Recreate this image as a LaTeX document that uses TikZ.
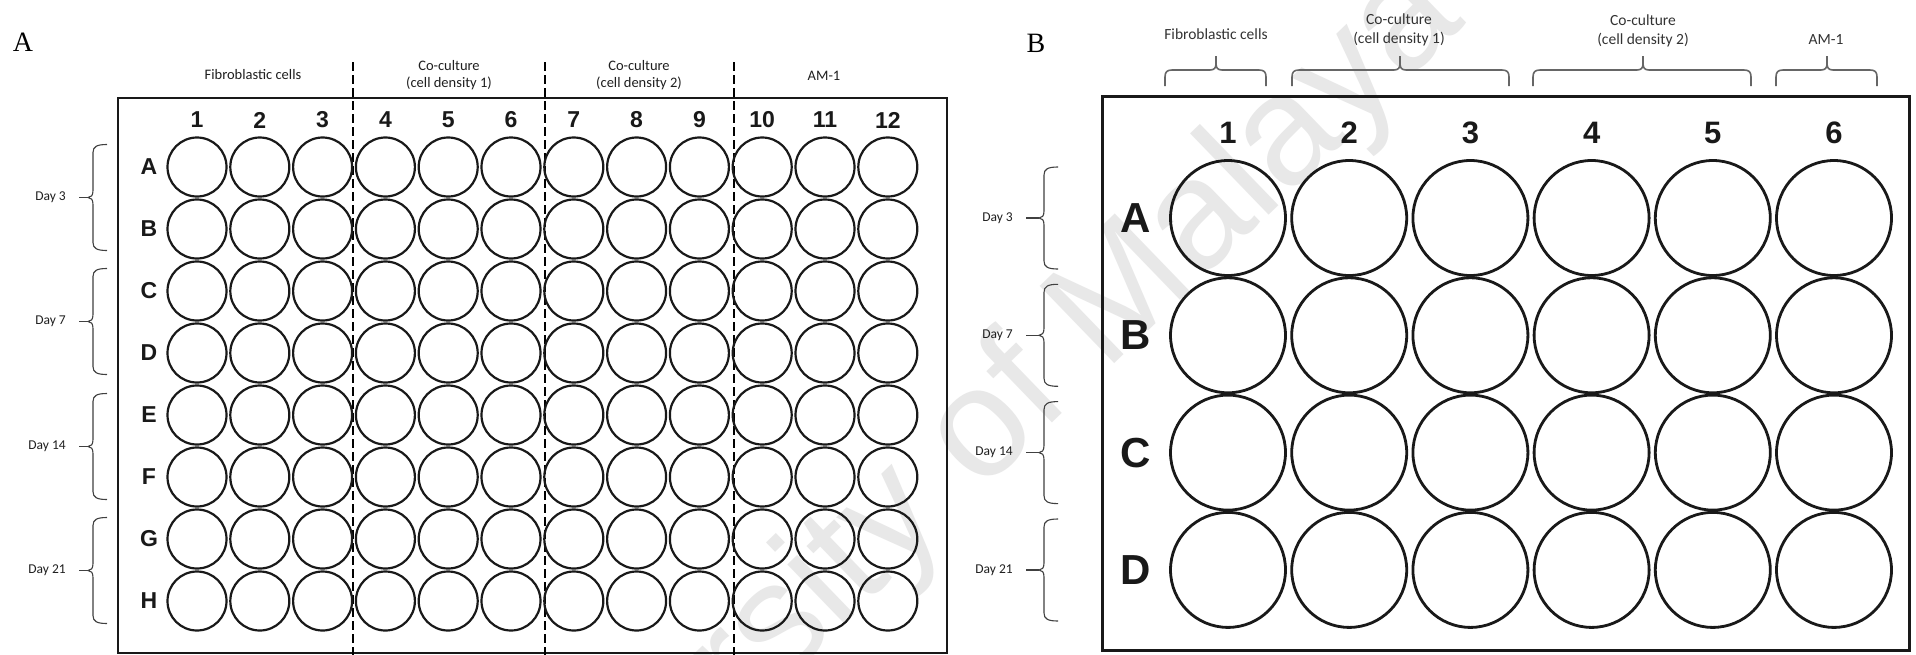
\documentclass[tikz,border=0pt]{standalone}
\usepackage{fontspec}
\setmainfont{Liberation Serif}
\setsansfont{Liberation Sans}
\newfontfamily\calib{Carlito}
\newcommand{\dayBrace}[5]{% name, x of spine, top, mid, bottom
  \draw[bracestyle] (#2+14,#3) .. controls (#2+4,#3) and (#2,#3+2) .. (#2,#3+8)
     -- (#2,#4-7) .. controls (#2,#4-2) and (#2-2,#4) .. (#2-5,#4)
     .. controls (#2-2,#4) and (#2,#4+2) .. (#2,#4+7)
     -- (#2,#5-8) .. controls (#2,#5-2) and (#2+4,#5) .. (#2+14,#5);
  \coordinate (#1) at (#2-5,#4);
}
\newcommand{\topBrace}[4]{% name, left, right, centre
  \draw[bracestyleb] (#2,86) -- (#2,77) .. controls (#2,72) and (#2+2,70) .. (#2+7,70)
     -- (#4-6,70) .. controls (#4-2,70) and (#4,68) .. (#4,64) -- (#4,56);
  \draw[bracestyleb] (#3,86) -- (#3,77) .. controls (#3,72) and (#3-2,70) .. (#3-7,70)
     -- (#4+6,70) .. controls (#4+2,70) and (#4,68) .. (#4,64);
  \coordinate (#1) at (#4,56);
}
\begin{document}
\begin{tikzpicture}[x=1pt,y=-1pt,
  hdr/.style={font=\calib\fontsize{14.5}{16.5}\selectfont, align=center, text=black!88, inner sep=0},
  hdrb/.style={font=\calib\fontsize{15.5}{19}\selectfont, align=center, text=black!80, inner sep=0},
  daylbl/.style={font=\calib\fontsize{13.5}{16}\selectfont, text=black!88, inner sep=0, anchor=east},
  numa/.style={font=\sffamily\bfseries\fontsize{23}{23}\selectfont, inner sep=0, text=black!90},
  numb/.style={font=\sffamily\bfseries\fontsize{31}{31}\selectfont, inner sep=0, text=black!90},
  rowb/.style={font=\sffamily\bfseries\fontsize{42}{42}\selectfont, inner sep=0, text=black!90},
  panel/.style={font=\rmfamily\fontsize{28}{28}\selectfont, inner sep=0},
  wella/.style={circle, draw=black!90, line width=2.2pt, minimum size=59pt, inner sep=0},
  wellb/.style={circle, draw=black!90, line width=2.8pt, minimum size=115pt, inner sep=0},
  bracestyle/.style={draw=black!75, line width=1.1pt},
  bracestyleb/.style={draw=black!60, line width=1.6pt},
  ticka/.style={draw=black!75, line width=1.1pt},
  divider/.style={draw=black, line width=2pt, dash pattern=on 9pt off 4pt},
  plate/.style={draw=black!90, line width=2.6pt},
  watermark/.style={font=\sffamily\fontsize{156}{156}\selectfont, text=black!9, inner sep=0}
]
\useasboundingbox (0,0) rectangle (1916,654);
\fill[white] (0,0) rectangle (1916,654);
% watermark
\begin{scope}
  \clip (0,0) rectangle (1916,654);
  \node[watermark, rotate=44] (wm) at (934,482) {University of Malaya};
\end{scope}

% ================= Panel A =================
\node[panel] (labA) at (23,42) {A};
\draw[plate] (118,98) rectangle (947,653);
\foreach \x/\n in {353/1,545/2,734/3} {
  \coordinate (dtop\n) at (\x,62);
  \coordinate (dbot\n) at (\x,656);
  \draw[divider] (dtop\n) -- (dbot\n);
}
\node[hdr] (hA1) at (253,75) {Fibroblastic cells};
\node[hdr] (hA2) at (449,75) {Co-culture\\(cell density 1)};
\node[hdr] (hA3) at (639,75) {Co-culture\\(cell density 2)};
\node[hdr] (hA4) at (824,76) {AM-1};
\foreach \c in {1,...,12} {
  \node[numa] (ca\c) at ({197+(\c-1)*62.8},120) {\c};
}
\foreach \r/\L in {1/A,2/B,3/C,4/D,5/E,6/F,7/G,8/H} {
  \node[numa] (ra\r) at (149,{167+(\r-1)*62}) {\L};
  \foreach \c in {1,...,12} {
    \node[wella] (wa\r-\c) at ({197+(\c-1)*62.8},{167+(\r-1)*62}) {};
  }
}
\foreach \n/\m/\d in {1/197.5/3,2/321.5/7,3/446.5/14,4/570.5/21} {
  \dayBrace{bra\n}{93}{\m-53}{\m}{\m+53}
  \node[daylbl] (dA\n) at (66,\m) {Day \d};
  \draw[ticka] (dA\n.east) ++(13,0) -- (bra\n);
}

% ================= Panel B =================
\node[panel] (labB) at (1036,43) {B};
\draw[plate, line width=3pt] (1102,96) rectangle (1909,650);
\node[hdrb] (hB1) at (1216,34) {Fibroblastic cells};
\node[hdrb] (hB2) at (1399,30) {Co-culture\\(cell density 1)};
\node[hdrb] (hB3) at (1643,31) {Co-culture\\(cell density 2)};
\node[hdrb] (hB4) at (1826,40) {AM-1};
\topBrace{tb1}{1165}{1266}{1216}
\topBrace{tb2}{1292}{1509}{1400}
\topBrace{tb3}{1533}{1751}{1643}
\topBrace{tb4}{1776}{1877}{1827}
\foreach \c in {1,...,6} {
  \node[numb] (cb\c) at ({1228+(\c-1)*121.2},133) {\c};
}
\foreach \r/\L in {1/A,2/B,3/C,4/D} {
  \node[rowb] (rb\r) at (1136,{218+(\r-1)*117.3}) {\L};
  \foreach \c in {1,...,6} {
    \node[wellb] (wb\r-\c) at ({1228+(\c-1)*121.2},{218+(\r-1)*117.3}) {};
  }
}
\foreach \n/\m/\d in {1/218/3,2/335.3/7,3/452.6/14,4/570/21} {
  \dayBrace{brb\n}{1044}{\m-51}{\m}{\m+51}
  \node[daylbl] (dB\n) at (1013,\m) {Day \d};
  \draw[ticka] (dB\n.east) ++(13,0) -- (brb\n);
}
\end{tikzpicture}
\end{document}
